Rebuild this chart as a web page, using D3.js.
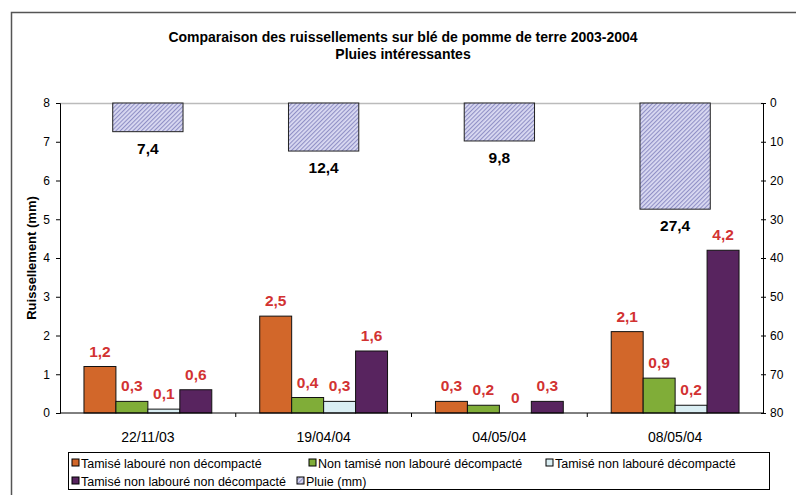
<!DOCTYPE html>
<html><head><meta charset="utf-8">
<script src="https://cdn.jsdelivr.net/npm/d3@7"></script>
<style>body{margin:0;background:#fff}svg{display:block}text{font-family:"Liberation Sans",Arial,sans-serif}</style>
</head><body><svg id="c" width="796" height="495"></svg>
<script>
const categories = ["22/11/03","19/04/04","04/05/04","08/05/04"];
const seriesNames = ["Tamisé labouré non décompacté","Non tamisé non labouré décompacté","Tamisé non labouré décompacté","Tamisé non labouré non décompacté"];
const tlnd = [1.2, 2.5, 0.3, 2.1];
const ntnld = [0.3, 0.4, 0.2, 0.9];
const tnld = [0.1, 0.3, 0, 0.2];
const tnlnd = [0.6, 1.6, 0.3, 4.2];
const pluie = [7.4, 12.4, 9.8, 27.4];
const leftTicks = [0,1,2,3,4,5,6,7,8];
const rightTicks = [0,10,20,30,40,50,60,70,80];
const series = [tlnd, ntnld, tnld, tnlnd];
const colors = ["#D2672A","#80AD38","#DAEEF3","#58245F"];

const svg = d3.select("#c");
const fmt = v => String(v).replace(".", ",");
const defs = svg.append("defs");
const pat = defs.append("pattern").attr("id","hatch").attr("patternUnits","userSpaceOnUse")
  .attr("width",3).attr("height",3).attr("patternTransform","rotate(45)");
pat.append("rect").attr("width",3).attr("height",3).attr("fill","#dadaf2");
pat.append("rect").attr("width",1.1).attr("height",3).attr("fill","#9090c6");

// outer border
svg.append("rect").attr("x",11.5).attr("y",12.5).attr("width",800).attr("height",500)
  .attr("fill","none").attr("stroke","#555").attr("stroke-width",1.5);

const L = 60, R = 763, T = 103, B = 413;
const x = d3.scaleBand().domain(categories).range([L,R]);
const y = d3.scaleLinear().domain([0,8]).range([B,T]);
const y2 = d3.scaleLinear().domain([0,80]).range([T,B]);
const bw = x.bandwidth();
const barW = bw/(4+1.5);
const rainW = bw/(1+1.5);

// title
svg.append("text").attr("x",403).attr("y",42).attr("text-anchor","middle").attr("font-size",14).attr("font-weight","bold")
  .text("Comparaison des ruissellements sur blé de pomme de terre 2003-2004");
svg.append("text").attr("x",403).attr("y",59).attr("text-anchor","middle").attr("font-size",14).attr("font-weight","bold")
  .text("Pluies intéressantes");

// top plot border
svg.append("line").attr("x1",L).attr("x2",R).attr("y1",T+0.5).attr("y2",T+0.5).attr("stroke","#bbb").attr("stroke-width",1.5);

// rain bars
categories.forEach((c,i)=>{
  const x0 = x(c) + (bw-rainW)/2;
  svg.append("rect").attr("x",x0).attr("y",y2(0)).attr("width",rainW).attr("height",y2(pluie[i])-y2(0))
    .attr("fill","url(#hatch)").attr("stroke","#222").attr("stroke-width",1);
  svg.append("text").attr("x",x(c)+bw/2).attr("y",y2(pluie[i])+22).attr("text-anchor","middle")
    .attr("font-size",15.5).attr("font-weight","bold").attr("fill","#000").text(fmt(pluie[i]));
});

// runoff bars
series.forEach((s,k)=>{
  categories.forEach((c,i)=>{
    const x0 = x(c) + (bw-4*barW)/2 + k*barW;
    svg.append("rect").attr("x",x0).attr("y",y(s[i])).attr("width",barW).attr("height",B-y(s[i]))
      .attr("fill",colors[k]).attr("stroke","#111").attr("stroke-width",1);
    svg.append("text").attr("x",x0+barW/2).attr("y",y(s[i])-10).attr("text-anchor","middle")
      .attr("font-size",15.5).attr("font-weight","bold").attr("fill","#D23232").text(fmt(s[i]));
  });
});

// left axis
const gl = svg.append("g").attr("transform",`translate(${L},0)`)
  .call(d3.axisLeft(y).tickValues(leftTicks).tickSize(4).tickPadding(6).tickFormat(d=>d));
gl.selectAll("text").attr("font-size",12).attr("font-family","Liberation Sans, Arial").attr("fill","#000");
gl.select(".domain").attr("stroke","#000");
// right axis
const gr = svg.append("g").attr("transform",`translate(${R},0)`)
  .call(d3.axisRight(y2).tickValues(rightTicks).tickSize(3).tickPadding(4).tickFormat(d=>d));
gr.selectAll(".tick line").attr("x1",-2);
gr.selectAll("text").attr("font-size",12).attr("font-family","Liberation Sans, Arial").attr("fill","#000");
gr.select(".domain").attr("stroke","#000");
// bottom axis
svg.append("line").attr("x1",L).attr("x2",R).attr("y1",B).attr("y2",B).attr("stroke","#000");
categories.forEach((c,i)=>{
  if(i>0) svg.append("line").attr("x1",x(c)).attr("x2",x(c)).attr("y1",B).attr("y2",B+4).attr("stroke","#000");
  svg.append("text").attr("x",x(c)+bw/2).attr("y",B+29).attr("text-anchor","middle").attr("font-size",14).text(c);
});

// y title
svg.append("text").attr("transform",`translate(36,258) rotate(-90)`).attr("text-anchor","middle")
  .attr("font-size",13).attr("font-weight","bold").text("Ruissellement (mm)");

// legend
svg.append("rect").attr("x",68.5).attr("y",452.5).attr("width",701).attr("height",37)
  .attr("fill","#fff").attr("stroke","#000").attr("stroke-width",1);
const legItems = [
  {n:seriesNames[0], f:colors[0], x:72, y:463},
  {n:seriesNames[1], f:colors[1], x:309, y:463},
  {n:seriesNames[2], f:colors[2], x:546, y:463},
  {n:seriesNames[3], f:colors[3], x:72, y:481},
  {n:"Pluie (mm)", f:"url(#hatch)", x:297, y:481}
];
legItems.forEach(d=>{
  svg.append("rect").attr("x",d.x).attr("y",d.y-4).attr("width",7).attr("height",7).attr("fill",d.f).attr("stroke","#000");
  svg.append("text").attr("x",d.x+9).attr("y",d.y+4.5).attr("font-size",12.5).text(d.n);
});
</script></body></html>
